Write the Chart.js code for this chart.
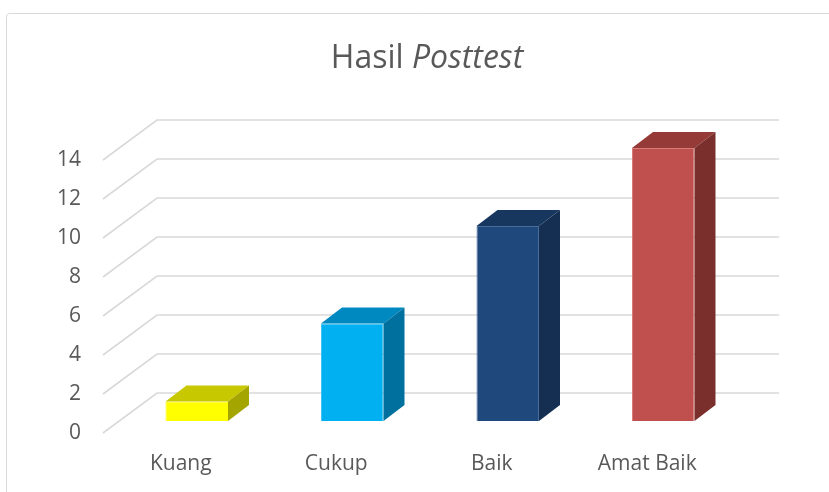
<!DOCTYPE html>
<html>
<head>
<meta charset="utf-8">
<script src="https://cdn.jsdelivr.net/npm/chart.js@4.4.0/dist/chart.umd.min.js"></script>
<style>
  html, body { margin: 0; padding: 0; background: #fff; }
  #wrap { position: relative; width: 829px; height: 492px; }
</style>
</head>
<body>
<div id="wrap"><canvas id="c" width="829" height="492"></canvas></div>
<script>
// data
const categories = ['Kuang', 'Cukup', 'Baik', 'Amat Baik'];
const values = [1, 5, 10, 14];
const yMax = 14;
const yStep = 2;

// colours: front face, top face, side face
const frontColors = ['#ffff00', '#00b0f0', '#1f497d', '#c0504d'];
const edgeColors = ['#ffff00', '#3fc3f3', '#4a6d99', '#d87c7a'];
const topColors = ['#c8c800', '#0088c0', '#17375e', '#953a37'];
const sideColors = ['#a5a500', '#00709f', '#152f52', '#7b2f2d'];

const FONT = "'Open Sans', sans-serif";
const TEXT = '#595959';
const GRID = '#d9d9d9';

// 3d offsets (px) relative to the plane the bars stand on
const BAR_DEPTH = [21, -16];
const FRONT = [-16, 12];
const BACK = [38, -28];

const fake3d = {
    id: 'fake3d',
    beforeDraw(chart) {
        const ctx = chart.ctx;
        ctx.save();
        ctx.strokeStyle = GRID;
        ctx.lineWidth = 1;
        ctx.beginPath();
        ctx.roundRect(6.5, 13.5, 900, 600, 3);
        ctx.stroke();
        ctx.restore();
    },
    beforeDatasetsDraw(chart) {
        const { ctx, chartArea, scales: { y } } = chart;
        ctx.save();
        ctx.strokeStyle = GRID;
        ctx.lineWidth = 1.6;
        y.ticks.forEach(t => {
            const py = y.getPixelForValue(t.value);
            ctx.beginPath();
            ctx.moveTo(chartArea.left + FRONT[0], py + FRONT[1]);
            ctx.lineTo(chartArea.left + BACK[0], py + BACK[1]);
            ctx.lineTo(chartArea.right + BACK[0], py + BACK[1]);
            ctx.stroke();
        });
        ctx.restore();
    },
    afterDatasetsDraw(chart) {
        const ctx = chart.ctx;
        const [dx, dy] = BAR_DEPTH;
        ctx.save();
        chart.getDatasetMeta(0).data.forEach((bar, i) => {
            const { x, y, base, width } = bar.getProps(['x', 'y', 'base', 'width'], true);
            const l = x - width / 2, r = x + width / 2;
            // top
            ctx.fillStyle = topColors[i];
            ctx.beginPath();
            ctx.moveTo(l, y);
            ctx.lineTo(r, y);
            ctx.lineTo(r + dx, y + dy);
            ctx.lineTo(l + dx, y + dy);
            ctx.closePath();
            ctx.fill();
            // side
            ctx.fillStyle = sideColors[i];
            ctx.beginPath();
            ctx.moveTo(r, y);
            ctx.lineTo(r + dx, y + dy);
            ctx.lineTo(r + dx, base + dy);
            ctx.lineTo(r, base);
            ctx.closePath();
            ctx.fill();
        });
        ctx.restore();
    },
    afterDraw(chart) {
        // title with italic second word
        const ctx = chart.ctx;
        const a = 'Hasil ', b = 'Posttest';
        ctx.save();
        ctx.fillStyle = TEXT;
        ctx.textBaseline = 'alphabetic';
        ctx.font = `32px ${FONT}`;
        const wa = ctx.measureText(a).width;
        ctx.font = `italic 32px ${FONT}`;
        const wb = ctx.measureText(b).width;
        const x0 = 427 - (wa + wb) / 2;
        ctx.font = `32px ${FONT}`;
        ctx.fillText(a, x0, 68);
        ctx.font = `italic 32px ${FONT}`;
        ctx.fillText(b, x0 + wa, 68);
        ctx.restore();
    }
};

new Chart(document.getElementById('c'), {
    type: 'bar',
    data: {
        labels: categories,
        datasets: [{
            data: values,
            backgroundColor: frontColors,
            borderColor: edgeColors,
            borderWidth: 1,
            barPercentage: 0.402,
            categoryPercentage: 1
        }]
    },
    options: {
        responsive: false,
        animation: false,
        layout: { padding: { left: 0, right: 88, top: 148, bottom: 0 } },
        plugins: {
            legend: { display: false },
            tooltip: { enabled: false },
            title: { display: false }
        },
        scales: {
            x: {
                grid: { display: false, drawTicks: false },
                border: { display: false },
                ticks: { color: TEXT, font: { family: FONT, size: 21 }, labelOffset: -16, padding: 30 },
                afterFit(s) { s.height = 71; }
            },
            y: {
                min: 0,
                max: yMax,
                grid: { display: false, drawTicks: false },
                border: { display: false },
                ticks: { stepSize: yStep, color: TEXT, font: { family: FONT, size: 21 }, labelOffset: 12, padding: 38 },
                afterFit(s) { s.width = 119; }
            }
        }
    },
    plugins: [fake3d]
});
</script>
</body>
</html>
